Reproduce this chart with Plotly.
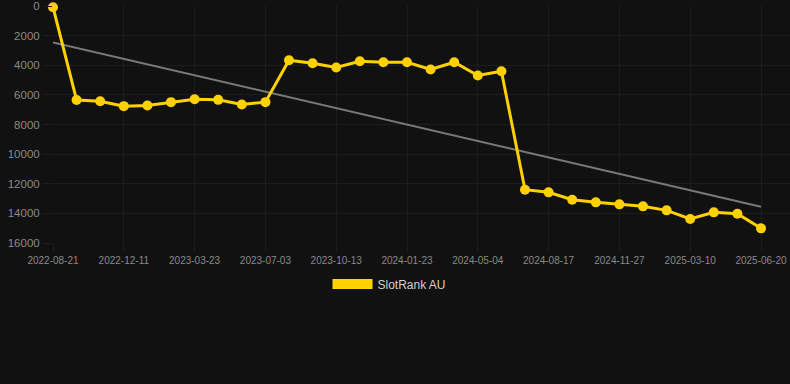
import numpy as np
import plotly.graph_objects as go

dates = [
    "2022-08-21", "2022-09-28", "2022-11-04", "2022-12-11", "2023-01-14", "2023-02-17",
    "2023-03-23", "2023-04-26", "2023-05-30", "2023-07-03", "2023-08-06", "2023-09-09",
    "2023-10-13", "2023-11-16", "2023-12-20", "2024-01-23", "2024-02-26", "2024-03-31",
    "2024-05-04", "2024-06-08", "2024-07-13", "2024-08-17", "2024-09-20", "2024-10-24",
    "2024-11-27", "2024-12-31", "2025-02-04", "2025-03-10", "2025-04-13", "2025-05-17",
    "2025-06-20",
]
rank_au = [
    80, 6350, 6425, 6760, 6720, 6490, 6290, 6335, 6650, 6490,
    3660, 3865, 4155, 3730, 3795, 3795, 4290, 3795, 4695, 4405,
    12400, 12580, 13075, 13255, 13390, 13525, 13795, 14380, 13930, 14020,
    15010,
]
y_ticks = [0, 2000, 4000, 6000, 8000, 10000, 12000, 14000, 16000]
x_tick_labels = dates[::3]

idx = np.arange(len(rank_au))
slope, intercept = np.polyfit(idx, np.array(rank_au, dtype=float), 1)
trend = slope * idx + intercept

BG = "#111111"
GRID = "#1d1d1d"
YELLOW = "#FFD100"

fig = go.Figure()
fig.add_trace(go.Scatter(
    x=dates, y=trend, mode="lines",
    line=dict(color="rgba(140,140,140,0.85)", width=2),
    showlegend=False, hoverinfo="skip", cliponaxis=False,
))
fig.add_trace(go.Scatter(
    x=dates, y=rank_au, mode="lines+markers",
    line=dict(color=YELLOW, width=3),
    marker=dict(color=YELLOW, size=10),
    showlegend=False, cliponaxis=False, name="SlotRank AU",
))
fig.add_trace(go.Scatter(
    x=[None], y=[None], mode="lines",
    line=dict(color=YELLOW, width=12),
    name="SlotRank AU", showlegend=True,
))

n = len(dates)
spacing = 708 / (n - 1)
right = (n - 1) + 29 / spacing

fig.update_layout(
    width=790, height=384,
    paper_bgcolor=BG, plot_bgcolor=BG,
    margin=dict(l=53, r=0, t=6, b=140.7),
    font=dict(family="Liberation Sans, Arial, sans-serif", color="#8a8a8a"),
    legend=dict(
        orientation="h", xref="container", yref="container",
        x=389.5 / 790, xanchor="center", y=1 - 284 / 384, yanchor="middle",
        font=dict(size=12, color="#d0d0d0"), itemwidth=40,
        bgcolor="rgba(0,0,0,0)",
    ),
    xaxis=dict(
        type="category", categoryorder="array", categoryarray=dates,
        range=[0, right],
        tickmode="array", tickvals=x_tick_labels, ticktext=x_tick_labels,
        showgrid=True, gridcolor=GRID, gridwidth=1,
        ticks="outside", ticklen=8, tickcolor=GRID,
        tickangle=0, tickfont=dict(size=10, color="#8a8a8a"),
        showline=False, zeroline=False,
    ),
    yaxis=dict(
        range=[16000, 0], tickmode="array", tickvals=y_ticks,
        ticktext=[str(v) for v in y_ticks],
        showgrid=True, gridcolor=GRID, gridwidth=1,
        ticks="outside", ticklen=10, tickcolor=GRID,
        tickfont=dict(size=11.5, color="#8a8a8a"),
        showline=False, zeroline=False,
    ),
)

fig.write_html(
    "out.html",
    config={"displayModeBar": False},
    post_script="document.body.style.margin='0';document.body.style.background='#111111';document.body.style.overflow='hidden';",
)
